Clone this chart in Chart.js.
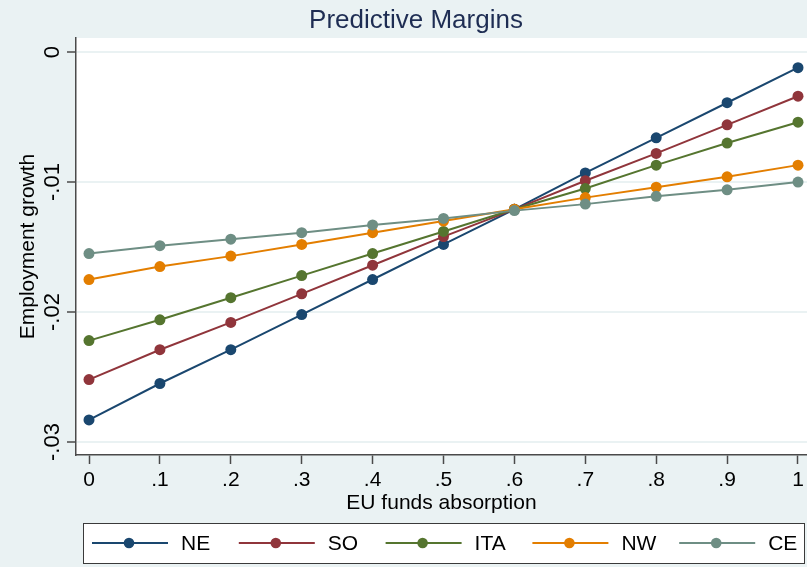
<!DOCTYPE html>
<html>
<head>
<meta charset="utf-8">
<title>Predictive Margins</title>
<script src="https://cdn.jsdelivr.net/npm/chart.js@4.4.0/dist/chart.umd.min.js"></script>
<style>
    html, body { margin: 0; padding: 0; background: #eaf2f3; }
    canvas { display: block; }
</style>
</head>
<body>
<canvas id="marginsChart" width="807" height="567"></canvas>
<script>

// ---------------- DATA ----------------

const absorption = [0, 0.1, 0.2, 0.3, 0.4, 0.5, 0.6, 0.7, 0.8, 0.9, 1];

const xTickLabels = ["0", ".1", ".2", ".3", ".4", ".5", ".6", ".7", ".8", ".9", "1"];

const yTickValues = [0, -0.01, -0.02, -0.03];
const yTickLabels = ["0", "-.01", "-.02", "-.03"];

const seriesNames = ["NE", "SO", "ITA", "NW", "CE"];

const neValues  = [-0.0283, -0.0255, -0.0229, -0.0202, -0.0175, -0.0148, -0.0121, -0.0093, -0.0066, -0.0039, -0.0012];
const soValues  = [-0.0252, -0.0229, -0.0208, -0.0186, -0.0164, -0.0142, -0.0121, -0.0099, -0.0078, -0.0056, -0.0034];
const itaValues = [-0.0222, -0.0206, -0.0189, -0.0172, -0.0155, -0.0138, -0.0121, -0.0105, -0.0087, -0.0070, -0.0054];
const nwValues  = [-0.0175, -0.0165, -0.0157, -0.0148, -0.0139, -0.0130, -0.0121, -0.0112, -0.0104, -0.0096, -0.0087];
const ceValues  = [-0.0155, -0.0149, -0.0144, -0.0139, -0.0133, -0.0128, -0.0122, -0.0117, -0.0111, -0.0106, -0.0100];

const seriesColors = ["#1a476f", "#90353b", "#55752f", "#e37e00", "#6e8e84"];

// ---------------- STYLE ----------------

const FONT = "'Liberation Sans', Arial, sans-serif";
const BG = "#eaf2f3";
const AXIS = "#4a4a4a";

const allSeries = [neValues, soValues, itaValues, nwValues, ceValues];

const datasets = allSeries.map((values, i) => ({
    label: seriesNames[i],
    data: values.map((v, j) => ({ x: absorption[j], y: v })),
    borderColor: seriesColors[i],
    backgroundColor: seriesColors[i],
    borderWidth: 2,
    pointRadius: 5.5,
    pointBorderWidth: 0,
    pointHoverRadius: 5.5,
    order: allSeries.length - i,
    tension: 0
}));

// ---------------- PLUGINS ----------------

const backgroundPlugin = {
    id: "background",
    beforeDraw(chart) {
        const { ctx, chartArea } = chart;
        ctx.save();
        ctx.fillStyle = BG;
        ctx.fillRect(0, 0, chart.width, chart.height);
        ctx.fillStyle = "#ffffff";
        ctx.fillRect(chartArea.left, chartArea.top,
            chartArea.right - chartArea.left, chartArea.bottom - chartArea.top);
        ctx.restore();
    }
};

const annotationPlugin = {
    id: "annotations",
    afterDraw(chart) {
        const ctx = chart.ctx;
        const yScale = chart.scales.y;

        ctx.save();

        // title
        ctx.fillStyle = "#1e2d53";
        ctx.font = "26px " + FONT;
        ctx.textAlign = "center";
        ctx.textBaseline = "middle";
        ctx.fillText("Predictive Margins", 416, 21);

        // rotated y tick labels
        ctx.fillStyle = "#000000";
        ctx.font = "22px " + FONT;
        yTickValues.forEach((v, i) => {
            const py = yScale.getPixelForValue(v);
            ctx.save();
            ctx.translate(53, py);
            ctx.rotate(-Math.PI / 2);
            ctx.textAlign = "center";
            ctx.textBaseline = "middle";
            ctx.fillText(yTickLabels[i], 0, 0);
            ctx.restore();
        });

        // legend box
        const boxLeft = 83, boxTop = 523, boxRight = 804, boxBottom = 563;
        ctx.fillStyle = "#ffffff";
        ctx.fillRect(boxLeft, boxTop, boxRight - boxLeft, boxBottom - boxTop);
        ctx.strokeStyle = "#3a3a3a";
        ctx.lineWidth = 1;
        ctx.strokeRect(boxLeft + 0.5, boxTop + 0.5, boxRight - boxLeft, boxBottom - boxTop);

        const midY = 543;
        ctx.font = "21px " + FONT;
        ctx.textAlign = "left";
        ctx.textBaseline = "middle";

        chart.data.datasets.forEach((ds, i) => {
            const dotX = 129 + i * 146.8;
            ctx.strokeStyle = ds.borderColor;
            ctx.lineWidth = 2;
            ctx.beginPath();
            ctx.moveTo(dotX - 37, midY);
            ctx.lineTo(dotX + 39, midY);
            ctx.stroke();

            ctx.fillStyle = ds.backgroundColor;
            ctx.beginPath();
            ctx.arc(dotX, midY, 5.3, 0, Math.PI * 2);
            ctx.fill();

            ctx.fillStyle = "#000000";
            ctx.fillText(ds.label, dotX + 52, midY + 1);
        });

        ctx.restore();
    }
};

// ---------------- CHART ----------------

const ctx = document.getElementById("marginsChart");

new Chart(ctx, {

    type: "line",

    data: { datasets: datasets },

    options: {

        responsive: false,
        animation: false,

        layout: {
            autoPadding: false,
            padding: { top: 38, left: 0, right: 0, bottom: 47 }
        },

        plugins: {
            legend: { display: false },
            title: { display: false },
            tooltip: { enabled: false }
        },

        scales: {

            x: {
                type: "linear",
                min: -0.01834,
                max: 1.0127,
                afterBuildTicks: scale => {
                    scale.ticks = absorption.map(v => ({ value: v }));
                },
                afterFit: scale => {
                    scale.height = 65;
                    scale.paddingLeft = 0;
                    scale.paddingRight = 0;
                },
                ticks: {
                    color: "#000000",
                    font: { family: FONT, size: 21 },
                    padding: 4,
                    maxRotation: 0,
                    autoSkip: false,
                    callback: (value, index) => xTickLabels[index]
                },
                grid: {
                    drawOnChartArea: false,
                    drawTicks: true,
                    tickLength: 9,
                    tickColor: AXIS,
                    tickWidth: 1.5
                },
                border: { color: AXIS, width: 1.5 },
                title: {
                    display: true,
                    text: "EU funds absorption",
                    color: "#000000",
                    font: { family: FONT, size: 21 },
                    padding: { top: 0, bottom: 4 }
                }
            },

            y: {
                min: -0.031,
                max: 0.00108,
                afterBuildTicks: scale => {
                    scale.ticks = yTickValues.map(v => ({ value: v }));
                },
                afterFit: scale => {
                    scale.width = 76;
                    scale.paddingTop = 0;
                    scale.paddingBottom = 0;
                },
                ticks: { display: false },
                grid: {
                    color: BG,
                    lineWidth: 2,
                    drawTicks: true,
                    tickLength: 9,
                    tickColor: AXIS,
                    tickWidth: 1.5
                },
                border: { color: AXIS, width: 1.5 },
                title: {
                    display: true,
                    text: "Employment growth",
                    color: "#000000",
                    font: { family: FONT, size: 21 },
                    padding: { top: 16, bottom: 0 }
                }
            }
        }
    },

    plugins: [backgroundPlugin, annotationPlugin]
});

</script>
</body>
</html>
